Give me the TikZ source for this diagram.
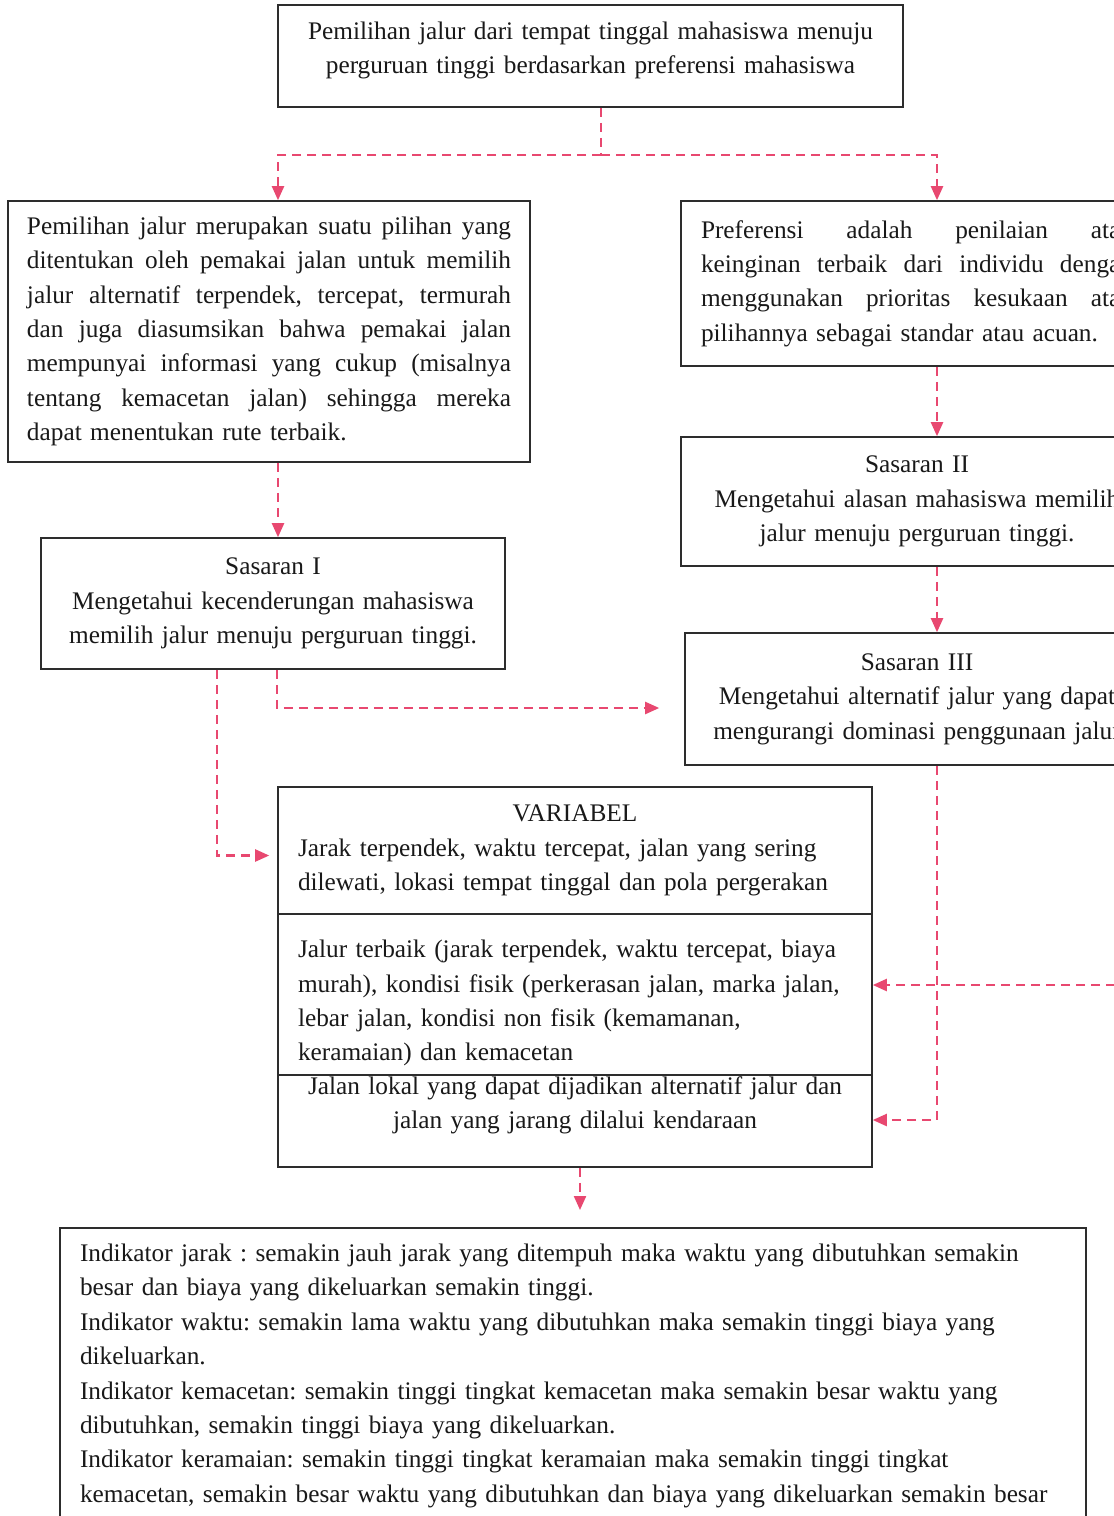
\documentclass[tikz,border=0pt]{standalone}
\usepackage{fontspec}
\setmainfont{Liberation Serif}
\usepackage{xcolor}
\usepackage{tikz}
\usetikzlibrary{arrows.meta,positioning,calc}
\definecolor{linkpink}{RGB}{232,72,112}
\definecolor{boxline}{RGB}{45,45,45}
\newcommand{\fullline}[2]{\leavevmode\hbox to #1{\spaceskip=\fontdimen2\font plus 1fil\relax #2}}
\frenchspacing

\begin{document}
\begin{tikzpicture}[x=1pt,y=-1pt,font=\fontsize{25.3}{34.4}\selectfont,
  box/.style={draw=boxline,line width=1.6pt,inner xsep=20pt,inner ysep=0pt,align=center,text=black!90},
  dline/.style={draw=linkpink,line width=2.2pt,dash pattern=on 9pt off 6pt},
  link/.style={dline,-{Triangle[length=14pt,width=12pt]}}]
\useasboundingbox (0,0) rectangle (1114,1516);
\fill[white] (0,0) rectangle (1114,1516);
\clip (0,0) rectangle (1114,1516);
% boxes
\node[box,minimum width=625pt,minimum height=102pt,text width=585pt] (goal) at (590.5,56) {Pemilihan jalur dari tempat tinggal mahasiswa menuju\\perguruan tinggi berdasarkan preferensi mahasiswa\\[-18pt]\mbox{}};
\node[box,minimum width=522pt,minimum height=261pt,text width=484pt,inner xsep=19pt,align=left] (choice) at (269,331.5) {\fullline{484pt}{Pemilihan jalur merupakan suatu pilihan yang}\\\fullline{484pt}{ditentukan oleh pemakai jalan untuk memilih}\\\fullline{484pt}{jalur alternatif terpendek, tercepat, termurah}\\\fullline{484pt}{dan juga diasumsikan bahwa pemakai jalan}\\\fullline{484pt}{mempunyai informasi yang cukup (misalnya}\\\fullline{484pt}{tentang kemacetan jalan) sehingga mereka}\\dapat menentukan rute terbaik.};
\node[box,minimum width=472pt,minimum height=165pt,text width=432pt,align=left] (pref) at (917,283.5) {\fullline{432pt}{Preferensi adalah penilaian atau}\\\fullline{432pt}{keinginan terbaik dari individu dengan}\\\fullline{432pt}{menggunakan prioritas kesukaan atau}\\pilihannya sebagai standar atau acuan.};
\node[box,minimum width=464pt,minimum height=131pt,text width=424pt] (tgt1) at (273,603.5) {Sasaran I\\Mengetahui kecenderungan mahasiswa\\memilih jalur menuju perguruan tinggi.};
\node[box,minimum width=472pt,minimum height=129pt,text width=432pt] (tgt2) at (917,501.5) {Sasaran II\\Mengetahui alasan mahasiswa memilih\\jalur menuju perguruan tinggi.};
\node[box,minimum width=464pt,minimum height=132pt,text width=424pt] (tgt3) at (917,699) {Sasaran III\\Mengetahui alternatif jalur yang dapat\\mengurangi dominasi penggunaan jalur};
% variabel
\node[box,minimum width=594pt,minimum height=127pt,text width=554pt,align=left] (var1) at (575,850.5) {\makebox[554pt]{VARIABEL}\\Jarak terpendek, waktu tercepat, jalan yang sering\\dilewati, lokasi tempat tinggal dan pola pergerakan};
\node[box,minimum width=594pt,minimum height=161pt,text width=554pt,align=left] (var2) at (575,994.5) {\rule{0pt}{35pt}\mbox{Jalur terbaik (jarak terpendek, waktu tercepat, biaya}\\\mbox{murah), kondisi fisik (perkerasan jalan, marka jalan,}\\\mbox{lebar jalan, kondisi non fisik (kemamanan,}\\\mbox{keramaian) dan kemacetan}};
\node[box,minimum width=594pt,minimum height=92pt,text width=554pt] (var3) at (575,1121) {Jalan lokal yang dapat dijadikan alternatif jalur dan\\jalan yang jarang dilalui kendaraan\\[2pt]\mbox{}};
\node[box,minimum width=1026pt,minimum height=296pt,text width=986pt,align=left,anchor=north] (ind) at (573,1227) {\mbox{Indikator jarak : semakin jauh jarak yang ditempuh maka waktu yang dibutuhkan semakin}\\\mbox{besar dan biaya yang dikeluarkan semakin tinggi.}\\\mbox{Indikator waktu: semakin lama waktu yang dibutuhkan maka semakin tinggi biaya yang}\\\mbox{dikeluarkan.}\\\mbox{Indikator kemacetan: semakin tinggi tingkat kemacetan maka semakin besar waktu yang}\\\mbox{dibutuhkan, semakin tinggi biaya yang dikeluarkan.}\\\mbox{Indikator keramaian: semakin tinggi tingkat keramaian maka semakin tinggi tingkat}\\\mbox{kemacetan, semakin besar waktu yang dibutuhkan dan biaya yang dikeluarkan semakin besar}};
% connectors
\coordinate (split) at (601,155);
\coordinate (feed) at (1130,985);
\draw[dline] (split |- goal.south) -- (split);
\draw[link] (split) -| ([xshift=9pt]choice.north);
\draw[link] (split) -| ([xshift=20pt]pref.north);
\draw[link] ([xshift=9pt]choice.south) -- ([xshift=9pt]choice.south |- tgt1.north);
\draw[link] ([xshift=20pt]pref.south) -- ([xshift=20pt]pref.south |- tgt2.north);
\draw[link] ([xshift=20pt]tgt2.south) -- ([xshift=20pt]tgt3.north);
\draw[link,shorten >=25pt] ([xshift=4pt]tgt1.south) |- ([yshift=-9pt]tgt3.west);
\draw[link,shorten >=8pt] ([xshift=-56pt]tgt1.south) |- ([yshift=-5pt]var1.west);
\draw[link] ([xshift=20pt]tgt3.south) |- ([yshift=1pt]var3.east);
\draw[link] (feed) -- (feed -| var2.east);
\draw[link,shorten >=17pt] ([xshift=5pt]var3.south) -- ([xshift=5pt]var3.south |- ind.north);
\end{tikzpicture}
\end{document}
